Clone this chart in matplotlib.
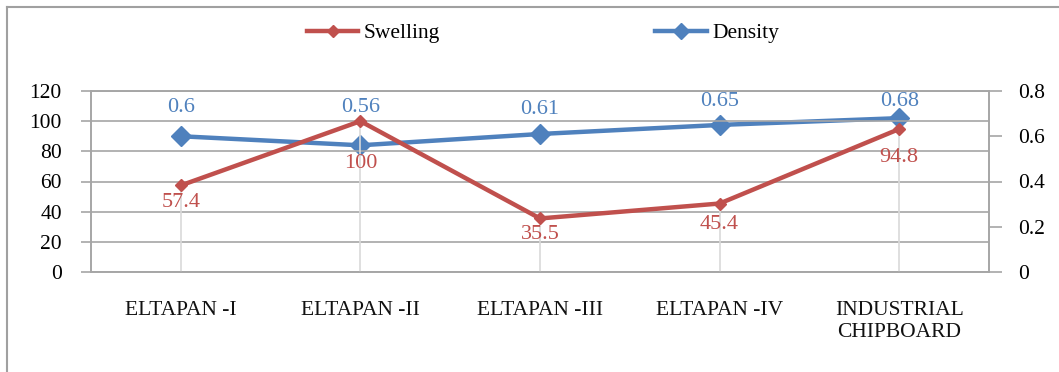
import matplotlib
matplotlib.use("Agg")
from matplotlib import pyplot as plt
from matplotlib.lines import Line2D
import matplotlib.ticker as ticker

categories = ["ELTAPAN -I", "ELTAPAN -II", "ELTAPAN -III", "ELTAPAN -IV",
              "INDUSTRIAL\nCHIPBOARD"]
swelling = [57.4, 100, 35.5, 45.4, 94.8]
density = [0.6, 0.56, 0.61, 0.65, 0.68]

RED = '#C0504D'
BLUE = '#4F81BD'
GRID = '#a6a6a6'

plt.rcParams['font.family'] = ['Liberation Serif', 'DejaVu Serif']

fig = plt.figure(figsize=(10.59, 3.72), dpi=100)
ax = fig.add_axes([91 / 1059, 1 - 272 / 372, (989 - 91) / 1059, (272 - 91) / 372])
ax2 = ax.twinx()

x = list(range(len(categories)))

# drop lines from the axis up to the swelling points
ax.vlines(x, 0, swelling, color='#d9d9d9', lw=1.2, zorder=1)

ax.plot(x, swelling, color=RED, lw=3.2, marker='D', ms=6, zorder=4,
        label='Swelling')
ax2.plot(x, density, color=BLUE, lw=3.2, marker='D', ms=10, zorder=3,
         label='Density')

# red series above the blue one
ax.set_zorder(ax2.get_zorder() + 1)
ax.patch.set_visible(False)

ax.set_xlim(-0.5, len(categories) - 0.5)
ax.set_ylim(0, 120)
ax2.set_ylim(0, 0.8)

ax.yaxis.set_major_locator(ticker.MultipleLocator(20))
ax2.yaxis.set_major_locator(ticker.MultipleLocator(0.2))
ax2.yaxis.set_major_formatter(ticker.FuncFormatter(lambda v, p: f"{v:g}"))

ax.grid(axis='y', color=GRID, lw=1.2)
ax.set_axisbelow(True)

ax.set_xticks(x)
ax.set_xticklabels(categories, fontsize=15.5, color='#111111')
ax.tick_params(axis='x', length=0, pad=21)
ax.tick_params(axis='y', labelsize=15.5, length=7, color=GRID, width=1.2,
               pad=14)
ax2.tick_params(axis='y', labelsize=15.5, length=9, color=GRID, width=1.2,
                pad=12)

for a in (ax, ax2):
    for s in a.spines.values():
        s.set_color(GRID)
        s.set_linewidth(1.2)

# data labels
red_off = [-17, -42, -16, -21, -28]
blue_off = [29, 38, 24, 23, 17]
for i, v in enumerate(swelling):
    ax.annotate(f"{v:g}", (i, v), xytext=(0, red_off[i]),
                textcoords='offset pixels', ha='center', va='center',
                color=RED, fontsize=16, zorder=5)
for i, v in enumerate(density):
    ax2.annotate(f"{v:g}", (i, v), xytext=(0, blue_off[i]),
                 textcoords='offset pixels', ha='center', va='center',
                 color=BLUE, fontsize=16)

handles = [Line2D([], [], color=RED, lw=3.2, marker='D', ms=6),
           Line2D([], [], color=BLUE, lw=3.2, marker='D', ms=8)]
fig.legend(handles, ['Swelling', 'Density'], loc='center',
           bbox_to_anchor=(543 / 1059, 1 - 33 / 372), ncol=2, frameon=False,
           fontsize=15.5, handlelength=2.4, handletextpad=0.25,
           columnspacing=10.0)

# outer chart frame (only top and left edges are in view)
fig.add_artist(Line2D([7 / 1059, 7 / 1059], [0, 1 - 7 / 372],
                      transform=fig.transFigure, color='#a0a0a0', lw=1.5))
fig.add_artist(Line2D([7 / 1059, 1], [1 - 7 / 372, 1 - 7 / 372],
                      transform=fig.transFigure, color='#a0a0a0', lw=1.5))

plt.savefig('out.png', dpi=100)
